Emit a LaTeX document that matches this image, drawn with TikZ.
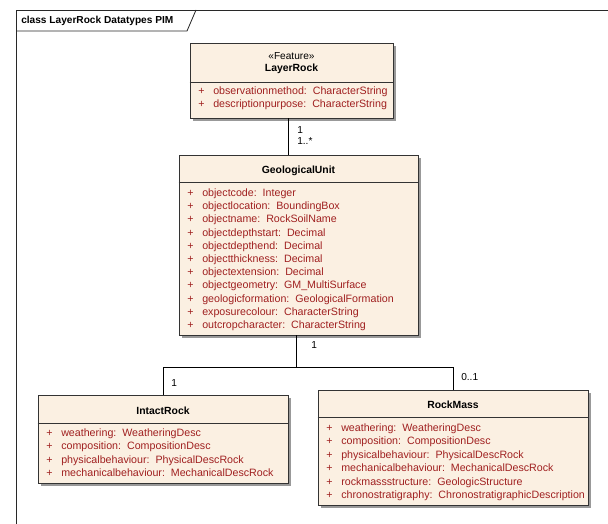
\documentclass[tikz,border=0pt]{standalone}
\usepackage{fontspec}
\setmainfont{Liberation Sans}
\usepackage{tikz}
\usetikzlibrary{fit,shadows}
\definecolor{classfill}{RGB}{251,240,226}
\definecolor{attrred}{RGB}{160,32,32}
\definecolor{framegray}{RGB}{40,40,40}

\begin{document}
\begin{tikzpicture}[x=0.75pt, y=-0.75pt,
	classbox/.style={draw=black!80, fill=classfill, line width=0.7pt, inner sep=0pt,
		drop shadow={shadow xshift=2.6pt, shadow yshift=-2.6pt, fill=black!40, opacity=1}},
	attr/.style={anchor=mid west, inner sep=0pt, text=attrred, font=\fontsize{8}{9}\selectfont},
	cname/.style={anchor=mid, inner sep=0pt, font=\bfseries\fontsize{7.8}{9}\selectfont},
	mult/.style={anchor=mid west, inner sep=0pt, font=\fontsize{7.6}{9}\selectfont}]
	\useasboundingbox (0,0) rectangle (608,524);
	\fill[white] (0,0) rectangle (608,524);

	% frame
	\draw[framegray, line width=0.7pt] (608,10) -- (16,10) -- (16,524);
	\draw[framegray, line width=0.6pt] (16,31) -- (187,31) -- (196,10);
	\node[anchor=mid west, inner sep=0pt, font=\bfseries\fontsize{7.6}{9}\selectfont] (title) at (21,20) {class LayerRock Datatypes PIM};

	% class boxes
	\node[classbox, fit={(190,43) (393,118)}] (layerrock) {};
	\node[classbox, fit={(179,155) (418,335)}] (geounit) {};
	\node[classbox, fit={(38,395) (288,483)}] (intact) {};
	\node[classbox, fit={(318,390) (588,505)}] (rockmass) {};

	% compartments
	\draw[black!80, line width=0.6pt] (layerrock.west |- 0,82) -- (layerrock.east |- 0,82);
	\draw[black!80, line width=0.6pt] (geounit.west |- 0,182) -- (geounit.east |- 0,182);
	\draw[black!80, line width=0.6pt] (intact.west |- 0,423) -- (intact.east |- 0,423);
	\draw[black!80, line width=0.6pt] (rockmass.west |- 0,417) -- (rockmass.east |- 0,417);

	% class names
	\node[mult, anchor=mid] (lr-st) at (291.5,56) {«Feature»};
	\node[cname] (lr-name) at (291.5,68) {LayerRock};
	\node[cname] (gu-name) at (298.5,170) {GeologicalUnit};
	\node[cname] (ir-name) at (163,411) {IntactRock};
	\node[cname] (rm-name) at (453,405) {RockMass};

	% attributes
	\foreach \a [count=\i] in {observationmethod:\ \ CharacterString, descriptionpurpose:\ \ CharacterString}
	{
		\node[attr] (lr-p\i) at (198,78+13*\i) {+};
		\node[attr] (lr-a\i) at (213,78+13*\i) {\a};
	}
	\foreach \a [count=\i] in {objectcode:\ \ Integer, objectlocation:\ \ BoundingBox,
		objectname:\ \ RockSoilName, objectdepthstart:\ \ Decimal, objectdepthend:\ \ Decimal,
		objectthickness:\ \ Decimal, objectextension:\ \ Decimal,
		{objectgeometry:\ \ GM\_MultiSurface}, geologicformation:\ \ GeologicalFormation,
		exposurecolour:\ \ CharacterString, outcropcharacter:\ \ CharacterString}
	{
		\node[attr] (gu-p\i) at (187,179.8+13.2*\i) {+};
		\node[attr] (gu-a\i) at (202,179.8+13.2*\i) {\a};
	}
	\foreach \a [count=\i] in {weathering:\ \ WeatheringDesc, composition:\ \ CompositionDesc,
		physicalbehaviour:\ \ PhysicalDescRock, mechanicalbehaviour:\ \ MechanicalDescRock}
	{
		\node[attr] (ir-p\i) at (46,419.7+13.3*\i) {+};
		\node[attr] (ir-a\i) at (61,419.7+13.3*\i) {\a};
	}
	\foreach \a [count=\i] in {weathering:\ \ WeatheringDesc, composition:\ \ CompositionDesc,
		physicalbehaviour:\ \ PhysicalDescRock, mechanicalbehaviour:\ \ MechanicalDescRock,
		rockmassstructure:\ \ GeologicStructure, chronostratigraphy:\ \ ChronostratigraphicDescription}
	{
		\node[attr] (rm-p\i) at (326,414.6+13.4*\i) {+};
		\node[attr] (rm-a\i) at (341,414.6+13.4*\i) {\a};
	}

	% connectors
	\coordinate (lrlink) at (288,0);
	\coordinate (junc) at (296,367);
	\draw[line width=0.6pt] (layerrock.south -| lrlink) -- (geounit.north -| lrlink);
	\draw[line width=0.6pt] (geounit.south -| junc) -- (junc) -| (intact.north);
	\draw[line width=0.6pt] (junc) -| (rockmass.north);

	% multiplicities
	\node[mult] (m-lr) at (297,130) {1};
	\node[mult] (m-gu1) at (297,141) {1..*};
	\node[mult] (m-gu2) at (311,345) {1};
	\node[mult] (m-ir) at (171,383) {1};
	\node[mult] (m-rm) at (461,377) {0..1};
\end{tikzpicture}
\end{document}
